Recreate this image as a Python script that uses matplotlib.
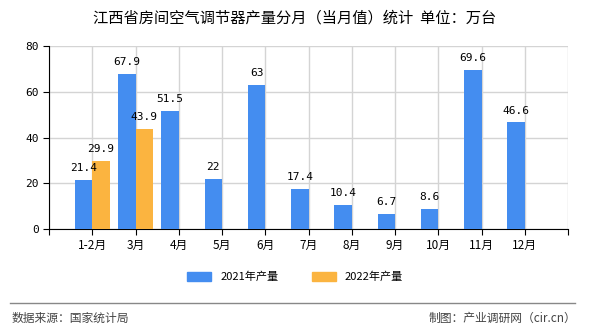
import numpy as np
import matplotlib.pyplot as plt
from matplotlib.patches import Patch

plt.rcParams['font.family'] = ['Noto Sans CJK SC', 'DejaVu Sans']

months = ['1-2月', '3月', '4月', '5月', '6月', '7月', '8月', '9月', '10月', '11月', '12月']
val_2021 = [21.4, 67.9, 51.5, 22, 63, 17.4, 10.4, 6.7, 8.6, 69.6, 46.6]
val_2022 = [29.9, 43.9]
blue = '#448df0'
orange = '#fbb440'
w = 0.4

fig = plt.figure(figsize=(5.9, 3.3), dpi=100)
ax = fig.add_axes([49/590, 1-229/330, (568-49)/590, (229-46)/330])

x = np.arange(1, len(months)+1)
ax.bar(x - w/2, val_2021, width=w, color=blue, zorder=3)
x2 = np.arange(1, len(val_2022)+1)
ax.bar(x2 + w/2, val_2022, width=w, color=orange, zorder=3)

for xi, v in zip(x, val_2021):
    ax.text(xi - w/2, v + 3, f'{v:g}', ha='center', va='bottom', fontsize=8,
            family='DejaVu Sans Mono')
for xi, v in zip(x2, val_2022):
    ax.text(xi + w/2, v + 3, f'{v:g}', ha='center', va='bottom', fontsize=8,
            family='DejaVu Sans Mono')

ax.set_xlim(0, 12)
ax.set_ylim(0, 80)
ax.set_xticks(np.arange(0, 13))
ax.set_xticklabels([''] + months + [''], fontsize=8.5)
ax.set_yticks([0, 20, 40, 60, 80])
ax.set_yticklabels(['0', '20', '40', '60', '80'], fontsize=8, family='DejaVu Sans Mono')
ax.tick_params(axis='both', length=4, color='black')
ax.grid(True, color='#d4d4d4', lw=1, zorder=0)
for s in ['top', 'right']:
    ax.spines[s].set_visible(False)
ax.spines['left'].set_color('black')
ax.spines['bottom'].set_color('black')

fig.text(0.5, 1-18/330, '江西省房间空气调节器产量分月（当月值）统计  单位：万台',
         ha='center', va='center', fontsize=11)

handles = [Patch(color=blue, label='2021年产量'), Patch(color=orange, label='2022年产量')]
fig.legend(handles=handles, loc='center', bbox_to_anchor=(0.5, 1-277/330), ncol=2,
           frameon=False, fontsize=8, handlelength=2.2, handleheight=0.8,
           columnspacing=3)

fig.add_artist(plt.Line2D([10/590, 575/590], [1-303/330, 1-303/330], color='#888888', lw=1))
fig.text(12/590, 1-318/330, '数据来源：国家统计局', ha='left', va='center', fontsize=8.5, color='#444444')
fig.text(576/590, 1-318/330, '制图：产业调研网（cir.cn）', ha='right', va='center', fontsize=8.5, color='#444444')

fig.savefig('out.png', dpi=100)
